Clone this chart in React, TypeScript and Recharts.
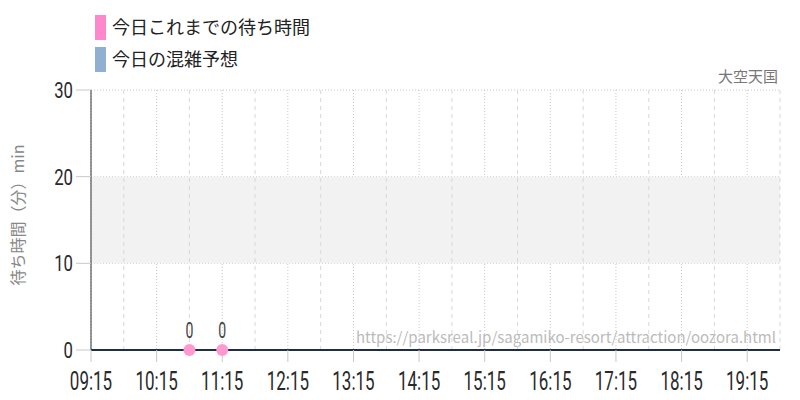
import React from 'react';
import {
  ComposedChart, Line, XAxis, YAxis, CartesianGrid, ReferenceArea, ReferenceLine, LabelList,
} from 'recharts';

const SERIES_NAMES = ['今日これまでの待ち時間', '今日の混雑予想'];
const SERIES_COLORS = ['#ff88cc', '#8fb0d0'];

const TIME_SLOTS = [
  '09:15', '09:45', '10:15', '10:45', '11:15', '11:45', '12:15', '12:45', '13:15', '13:45', '14:15',
  '14:45', '15:15', '15:45', '16:15', '16:45', '17:15', '17:45', '18:15', '18:45', '19:15', '19:45',
];
const FORECAST = [0, 0, 0, 0, 0, 0, 0, 0, 0, 0, 0, 0, 0, 0, 0, 0, 0, 0, 0, 0, 0, 0];
const WAIT_TIMES = ['10:45', '11:15'];
const WAIT_VALUES = [0, 0];

const HOUR_TICKS = ['09:15', '10:15', '11:15', '12:15', '13:15', '14:15', '15:15', '16:15', '17:15', '18:15', '19:15'];
const HALF_TICKS = ['09:45', '10:45', '11:45', '12:45', '13:45', '14:45', '15:45', '16:45', '17:45', '18:45', '19:45'];
const Y_TICKS = [0, 10, 20, 30];

const TITLE = '大空天国';
const Y_LABEL = '待ち時間（分）min';
const URL = 'https://parksreal.jp/sagamiko-resort/attraction/oozora.html';

const toMin = (t: string) => {
  const [h, m] = t.split(':').map(Number);
  return h * 60 + m;
};
const toLabel = (v: number) => {
  const h = Math.floor(v / 60);
  const m = v % 60;
  return `${String(h).padStart(2, '0')}:${String(m).padStart(2, '0')}`;
};

const data = TIME_SLOTS.map((t, i) => {
  const w = WAIT_TIMES.indexOf(t);
  return { t: toMin(t), forecast: FORECAST[i], wait: w >= 0 ? WAIT_VALUES[w] : null };
});

const NUM_FONT = 'Roboto, "DejaVu Sans", sans-serif';
const JP_FONT = '"Noto Sans CJK JP", "Noto Sans", sans-serif';

const XTick = (props: any) => {
  const { x, y, payload } = props;
  return (
    <g transform={`translate(${x},${y + 26}) scale(0.68,1)`}>
      <text textAnchor="middle" fontFamily={NUM_FONT} fontSize={25} fill="#2a2a2a">
        {toLabel(payload.value)}
      </text>
    </g>
  );
};

const YTick = (props: any) => {
  const { x, y, payload } = props;
  return (
    <g transform={`translate(${x},${y + 8}) scale(0.76,1)`}>
      <text textAnchor="end" fontFamily={NUM_FONT} fontSize={22} fill="#2a2a2a">
        {payload.value}
      </text>
    </g>
  );
};

const PointLabel = (props: any) => {
  const { x, y, value } = props;
  if (value === null || value === undefined) return null;
  return (
    <g transform={`translate(${x},${y - 12}) scale(0.64,1)`}>
      <text textAnchor="middle" fontFamily={NUM_FONT} fontSize={22} fill="#444">
        {value}
      </text>
    </g>
  );
};

export default function App() {
  return (
    <div style={{ position: 'absolute', left: 0, top: 0, width: 800, height: 400, background: '#fff' }}>
      <ComposedChart
        width={800}
        height={400}
        data={data}
        margin={{ top: 90, right: 20, bottom: 20, left: 31 }}
      >
        <ReferenceArea y1={10} y2={20} fill="#f2f2f2" fillOpacity={1} stroke="none" />
        <CartesianGrid
          stroke="#c8c8c8"
          strokeDasharray="1 2"
          horizontalValues={[10, 20, 30]}
          verticalValues={HOUR_TICKS.map(toMin)}
        />
        {HALF_TICKS.map((t) => (
          <ReferenceLine key={t} x={toMin(t)} stroke="#d8d8d8" strokeDasharray="4 4" />
        ))}
        <XAxis
          dataKey="t"
          type="number"
          domain={[toMin('09:15'), toMin('19:45')]}
          ticks={HOUR_TICKS.map(toMin)}
          tick={<XTick />}
          tickSize={12}
          height={30}
          tickLine={{ stroke: '#c8c8c8' }}
          axisLine={{ stroke: '#1f2f3f', strokeWidth: 2 }}
          interval={0}
        />
        <YAxis
          type="number"
          domain={[0, 30]}
          ticks={Y_TICKS}
          width={60}
          tick={<YTick />}
          tickSize={15}
          tickMargin={3}
          tickLine={{ stroke: '#c8c8c8' }}
          axisLine={{ stroke: '#333' }}
          interval={0}
        />
        <text x={776} y={343} textAnchor="end" fontFamily={JP_FONT} fontSize={15} fill="#bbb">
          {URL}
        </text>
        <text x={778} y={82} textAnchor="end" fontFamily={JP_FONT} fontSize={15} fill="#777">
          {TITLE}
        </text>
        <text
          x={0}
          y={0}
          transform="translate(24,215) rotate(-90)"
          textAnchor="middle"
          fontFamily={JP_FONT}
          fontSize={16}
          fill="#888"
        >
          {Y_LABEL}
        </text>
        <Line
          dataKey="forecast"
          stroke={SERIES_COLORS[1]}
          strokeWidth={1}
          dot={false}
          isAnimationActive={false}
        />
        <Line
          dataKey="wait"
          stroke={SERIES_COLORS[0]}
          strokeWidth={2}
          dot={{ r: 6, fill: '#ff99d0', stroke: 'none' }}
          activeDot={false}
          connectNulls={false}
          isAnimationActive={false}
        >
          <LabelList dataKey="wait" content={<PointLabel />} />
        </Line>
        {SERIES_NAMES.map((name, i) => (
          <g key={name}>
            <rect x={95} y={15 + i * 32} width={11} height={25} fill={SERIES_COLORS[i]} />
            <text x={112} y={34 + i * 32} fontFamily={JP_FONT} fontSize={18} fill="#222">
              {name}
            </text>
          </g>
        ))}
      </ComposedChart>
    </div>
  );
}
